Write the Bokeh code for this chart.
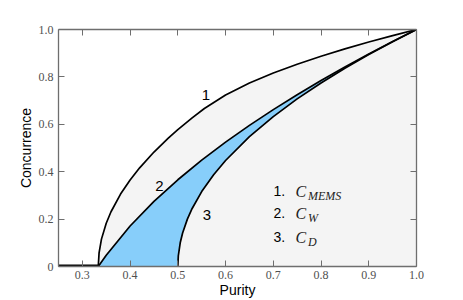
from bokeh.plotting import figure
from bokeh.models import Range1d, LinearAxis, FixedTicker, Label, CustomJSTickFormatter
from bokeh.embed import file_html
from bokeh.resources import INLINE

# ---- data ----
purity_mems = [0.3333, 0.335, 0.34, 0.35, 0.36, 0.38, 0.40, 0.42, 0.45, 0.48, 0.50, 0.53,
               0.5556, 0.60, 0.65, 0.70, 0.75, 0.80, 0.85, 0.90, 0.95, 1.0]
conc_mems = [0.0, 0.0577, 0.1155, 0.1826, 0.2309, 0.3055, 0.3651, 0.4163, 0.4830, 0.5416, 0.5774, 0.6272,
             0.6667, 0.7236, 0.7739, 0.8162, 0.8536, 0.8873, 0.9183, 0.9472, 0.9743, 1.0]

purity_w = [0.3333, 0.35, 0.40, 0.45, 0.50, 0.55, 0.60, 0.65, 0.70, 0.75, 0.80, 0.85, 0.90, 0.95, 1.0]
conc_w = [0.0, 0.0477, 0.1708, 0.2746, 0.3660, 0.4487, 0.5247, 0.5954, 0.6619, 0.7247, 0.7845,
          0.8416, 0.8964, 0.9491, 1.0]

purity_d = [0.5, 0.501, 0.505, 0.51, 0.52, 0.53, 0.55, 0.575, 0.60, 0.65, 0.70, 0.75, 0.80, 0.85,
            0.90, 0.95, 1.0]
conc_d = [0.0, 0.0447, 0.1, 0.1414, 0.2, 0.2449, 0.3162, 0.3873, 0.4472, 0.5477, 0.6325, 0.7071,
          0.7746, 0.8367, 0.8944, 0.9487, 1.0]

separable_x = [0.25, 0.3333]
separable_y = [0.0, 0.0]

x_ticks = [0.3, 0.4, 0.5, 0.6, 0.7, 0.8, 0.9, 1.0]
x_tick_labels = ["0.3", "0.4", "0.5", "0.6", "0.7", "0.8", "0.9", "1.0"]
y_ticks = [0.0, 0.2, 0.4, 0.6, 0.8, 1.0]
y_tick_labels = ["0", "0.2", "0.4", "0.6", "0.8", "1.0"]

curve_labels = ["1", "2", "3"]
legend_numbers = ["1.", "2.", "3."]
legend_symbol = "C"
legend_subs = ["MEMS", "W", "D"]

x_title = "Purity"
y_title = "Concurrence"

# ---- styles / layout ----
GRAY_FILL = "#f4f4f4"
BLUE_FILL = "#87cefa"
SPINE = "#6e6e6e"
TICK_TXT = "#505050"
SANS = "Liberation Sans"
SERIF = "Liberation Serif"

p = figure(width=463, height=300, x_range=Range1d(0.25, 1.0), y_range=Range1d(0.0, 1.0),
           output_backend="svg", toolbar_location=None,
           min_border_left=58, min_border_right=47, min_border_top=29, min_border_bottom=30)
p.outline_line_color = None
p.grid.visible = False
p.background_fill_color = "white"

def style_axis(ax, ticks, labels=None):
    ax.ticker = FixedTicker(ticks=ticks)
    ax.axis_line_color = SPINE
    ax.axis_line_width = 1.3
    ax.major_tick_line_color = SPINE
    ax.major_tick_line_width = 1
    ax.major_tick_in = 6
    ax.major_tick_out = 0
    ax.minor_tick_line_color = None
    if labels is None:
        ax.formatter = CustomJSTickFormatter(code="return ''")
        ax.major_label_standoff = 0
    else:
        ax.major_label_overrides = {t: l for t, l in zip(ticks, labels)}
        ax.major_label_text_font = SERIF
        ax.major_label_text_font_size = "12px"
        ax.major_label_text_color = TICK_TXT
        ax.major_label_standoff = 4
        ax.axis_label_text_font = SANS
        ax.axis_label_text_font_size = "14px"
        ax.axis_label_text_font_style = "normal"
        ax.axis_label_text_color = "black"
        ax.axis_label_standoff = 0

style_axis(p.xaxis[0], x_ticks, x_tick_labels)
style_axis(p.yaxis[0], y_ticks, y_tick_labels)
p.xaxis[0].axis_label = x_title
p.yaxis[0].axis_label = y_title
p.yaxis[0].major_label_standoff = 5
p.yaxis[0].axis_label_standoff = 2
top = LinearAxis()
right = LinearAxis()
style_axis(top, x_ticks)
style_axis(right, y_ticks)
p.add_layout(top, "above")
p.add_layout(right, "right")

x_end = p.x_range.end
# gray region under the MEMS curve
p.patch(purity_mems + [x_end, purity_mems[0]], conc_mems + [0.0, 0.0],
        fill_color=GRAY_FILL, line_color=None)
# blue region between Werner and C_D
p.patch(purity_w + purity_d[::-1], conc_w + conc_d[::-1], fill_color=BLUE_FILL, line_color=None)

for xs, ys in [(purity_mems, conc_mems), (purity_w, conc_w), (purity_d, conc_d)]:
    p.line(xs, ys, line_color="black", line_width=1.7)
p.line(separable_x, separable_y, line_color="black", line_width=4)

# curve numbers
for txt, (lx, ly) in zip(curve_labels, [(0.559, 0.722), (0.4616, 0.338), (0.5611, 0.2164)]):
    p.add_layout(Label(x=lx, y=ly, text=txt, text_font=SANS, text_font_size="15px",
                       text_align="center", text_baseline="middle", text_color="black"))

# legend
rows_y = [0.318, 0.225, 0.124]
for num, sub, ry in zip(legend_numbers, legend_subs, rows_y):
    p.add_layout(Label(x=0.7004, y=ry, text=num, text_font=SANS, text_font_size="14px",
                       text_align="left", text_baseline="middle", text_color="black"))
    p.add_layout(Label(x=0.7465, y=ry, text=legend_symbol, text_font=SERIF, text_font_style="italic",
                       text_font_size="16px", text_align="left", text_baseline="middle",
                       text_color="#222222"))
    p.add_layout(Label(x=0.7725, y=ry - 0.022, text=sub, text_font=SERIF, text_font_style="italic",
                       text_font_size="12px", text_align="left", text_baseline="middle",
                       text_color="#222222"))

open("out.html", "w").write(file_html(p, INLINE))
